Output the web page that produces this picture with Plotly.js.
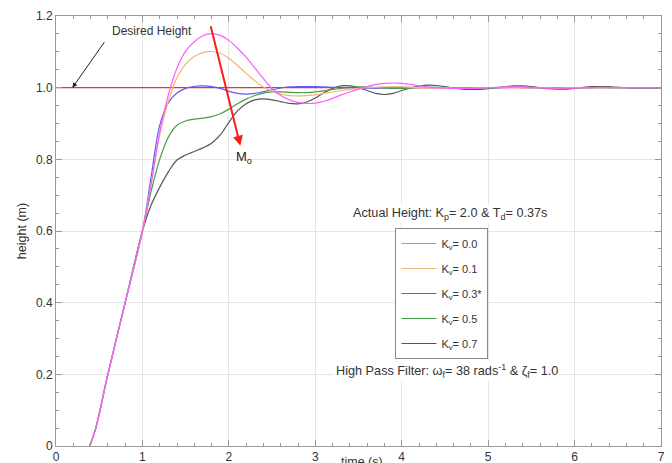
<!DOCTYPE html>
<html>
<head>
<meta charset="utf-8">
<script src="https://cdn.plot.ly/plotly-3.0.1.min.js"></script>
<style>html,body{margin:0;padding:0;background:#fff;}#chart{width:672px;height:463px;}</style>
</head>
<body>
<div id="chart"></div>
<script>
// time (s)
const time = [0.39,0.46,0.6,0.8,
  1.0,1.1,1.2,1.3,1.4,1.5,1.6,1.7,1.8,1.9,2.0,
  2.1,2.2,2.3,2.4,2.5,2.6,2.7,2.8,2.9,3.0,
  3.1,3.2,3.3,3.4,3.5,3.6,3.7,3.8,3.9,4.0,
  4.1,4.2,4.3,4.4,4.5,4.6,4.7,4.8,4.9,5.0,
  5.1,5.2,5.3,5.4,5.5,5.6,5.7,5.8,5.9,6.0,
  6.1,6.2,6.3,6.4,6.5,6.6,6.7,6.8,6.9,7.0];

// common initial rise (same for all Kv)
const rise = [0,0.05,0.2,0.4];

const kv00 = rise.concat([0.6,0.73,0.875,0.98,1.055,1.102,1.128,1.145,1.151,1.146,1.132,
  1.11,1.085,1.055,1.025,0.997,0.978,0.966,0.959,0.956,0.957,
  0.962,0.97,0.98,0.988,0.996,1.003,1.009,1.012,1.013,1.012,
  1.009,1.005,1.002,1.0,0.999,0.998,0.998,0.998,0.999,1.0,
  1.001,1.002,1.002,1.002,1.001,1.0,0.999,0.999,0.999,0.999,
  1.0,1.0,1.001,1.001,1.001,1.0,1.0,1.0,1.0,1.0]);

const kv01 = rise.concat([0.6,0.73,0.868,0.962,1.028,1.066,1.087,1.098,1.101,1.096,1.082,
  1.062,1.04,1.019,1.002,0.99,0.982,0.978,0.977,0.978,0.98,
  0.984,0.988,0.992,0.995,0.998,1.0,1.001,1.002,1.002,1.002,
  1.001,1.001,1.0,1.0,1.0,0.999,0.999,0.999,1.0,1.0,
  1.0,1.001,1.001,1.0,1.0,1.0,1.0,0.999,1.0,1.0,
  1.0,1.0,1.0,1.0,1.0,1.0,1.0,1.0,1.0,1.0]);

const kv03 = rise.concat([0.6,0.75,0.895,0.958,0.985,0.998,1.004,1.005,1.003,0.998,0.99,
  0.984,0.982,0.984,0.989,0.994,0.999,1.002,1.003,1.003,1.003,
  1.002,1.001,1.0,1.0,0.999,0.999,0.999,1.0,1.0,1.001,
  1.001,1.001,1.0,1.0,1.0,0.999,0.999,1.0,1.0,1.0,
  1.0,1.0,1.001,1.0,1.0,1.0,1.0,1.0,1.0,1.0,
  1.0,1.0,1.0,1.0,1.0,1.0,1.0,1.0,1.0,1.0]);

const kv05 = rise.concat([0.6,0.71,0.8,0.862,0.895,0.907,0.912,0.915,0.919,0.927,0.94,
  0.955,0.968,0.978,0.985,0.988,0.988,0.987,0.986,0.986,0.988,
  0.991,0.995,0.998,1.001,1.002,1.002,1.0,0.999,0.998,0.998,
  0.999,1.0,1.001,1.001,1.001,1.0,0.999,0.999,0.999,1.0,
  1.0,1.001,1.001,1.001,1.0,1.0,0.999,0.999,1.0,1.0,
  1.0,1.0,1.001,1.0,1.0,1.0,1.0,1.0,1.0,1.0]);

const kv07 = rise.concat([0.6,0.672,0.722,0.765,0.798,0.812,0.822,0.832,0.845,0.868,0.903,
  0.935,0.955,0.966,0.969,0.966,0.961,0.956,0.955,0.96,0.971,
  0.986,0.998,1.005,1.005,1.0,0.992,0.984,0.981,0.984,0.992,
  0.999,1.004,1.007,1.006,1.003,0.999,0.996,0.995,0.995,0.997,
  1.0,1.003,1.005,1.005,1.003,1.0,0.997,0.996,0.996,0.998,
  1.001,1.003,1.003,1.003,1.001,1.0,0.999,0.999,0.999,1.0]);

const desiredT = [0, 7];
const desiredH = [1.0, 1.0];

const seriesNames = ['K<sub>v</sub>= 0.0','K<sub>v</sub>= 0.1','K<sub>v</sub>= 0.3*','K<sub>v</sub>= 0.5','K<sub>v</sub>= 0.7'];
const seriesVals = [kv00, kv01, kv03, kv05, kv07];
const seriesColors = ['#ff5cff','#f3b476','#5b5bff','#45a045','#555555'];

const xTicks = [0,1,2,3,4,5,6,7];
const yTicks = [0,0.2,0.4,0.6,0.8,1.0,1.2];
const yTickText = ['0','0.2','0.4','0.6','0.8','1.0','1.2'];

const traces = [{
  x: desiredT, y: desiredH, mode:'lines', showlegend:false,
  line:{color:'#ff2a2a', width:1.2}, hoverinfo:'skip'
}];
for (let i = seriesVals.length - 1; i >= 0; i--) {
  traces.push({
    x: time, y: seriesVals[i], mode:'lines', name: seriesNames[i],
    legendgroup: 'g'+i, legendrank: i + 1,
    line:{color: seriesColors[i], width:1.2, shape:'spline', smoothing:1}
  });
}

const axisCommon = {
  showgrid:true, gridcolor:'#e6e6e6', gridwidth:1,
  showline:true, linecolor:'#999', linewidth:1, mirror:'allticks',
  ticks:'inside', ticklen:6, tickcolor:'#999',
  zeroline:false, automargin:false,
  tickfont:{size:12, color:'#333'}
};

const layout = {
  width:672, height:463,
  margin:{l:56, r:11, t:16, b:17},
  paper_bgcolor:'#fff', plot_bgcolor:'#fff',
  font:{family:'Liberation Sans, Arial, sans-serif', size:12, color:'#333'},
  showlegend:true,
  xaxis: Object.assign({}, axisCommon, {
    range:[0,7], tickmode:'array', tickvals:xTicks,
    minor:{tickmode:'linear', tick0:0, dtick:0.2, ticks:'inside', ticklen:3, tickcolor:'#999', showgrid:false}
  }),
  yaxis: Object.assign({}, axisCommon, {
    range:[0,1.2], tickmode:'array', tickvals:yTicks, ticktext:yTickText,
    minor:{tickmode:'linear', tick0:0, dtick:0.05, ticks:'inside', ticklen:3, tickcolor:'#999', showgrid:false},
    title:{text:'height (m)', font:{size:12.5, color:'#333'}, standoff:6}
  }),
  legend:{
    x:0.561, y:0.507, xanchor:'left', yanchor:'top',
    bgcolor:'#fff', bordercolor:'#888', borderwidth:1,
    font:{size:11, color:'#333'},
    traceorder:'grouped', tracegroupgap:6, itemwidth:35
  },
  annotations:[
    {xref:'paper', yref:'paper', x:0.5, y:0, yanchor:'top', xanchor:'center', yshift:-7, xshift:3,
     text:'time (s)', showarrow:false, font:{size:12.5, color:'#333'}},
    {xref:'x', yref:'y', x:0.19, y:1.0, ax:33, ay:-47, axref:'pixel', ayref:'pixel',
     text:'', showarrow:true, arrowhead:2, arrowsize:1, arrowwidth:1, arrowcolor:'#222', standoff:0},
    {xref:'x', yref:'y', x:0.62, y:1.158, text:'Desired Height', showarrow:false,
     xanchor:'left', font:{size:12, color:'#333'}},
    {xref:'x', yref:'y', x:2.133, y:0.838, ax:-30, ay:-121, axref:'pixel', ayref:'pixel',
     text:'', showarrow:true, arrowhead:2, arrowsize:1, arrowwidth:2, arrowcolor:'#ff1a1a', standoff:0},
    {xref:'x', yref:'y', x:2.18, y:0.805, text:'M<sub>o</sub>', showarrow:false,
     font:{size:13, color:'#222'}},
    {xref:'paper', yref:'paper', x:0.652, y:0.540, text:'Actual Height: K<sub>p</sub>= 2.0 & T<sub>d</sub>= 0.37s',
     showarrow:false, bgcolor:'#fff', font:{size:12.7, color:'#333'}},
    {xref:'paper', yref:'paper', x:0.647, y:0.148, text:'High Pass Filter: ω<sub>f</sub>= 38 rads<sup>-1</sup> & ζ<sub>f</sub>= 1.0',
     showarrow:false, bgcolor:'#fff', font:{size:12.7, color:'#333'}}
  ]
};

Plotly.newPlot('chart', traces, layout, {displayModeBar:false, staticPlot:true});
</script>
</body>
</html>
